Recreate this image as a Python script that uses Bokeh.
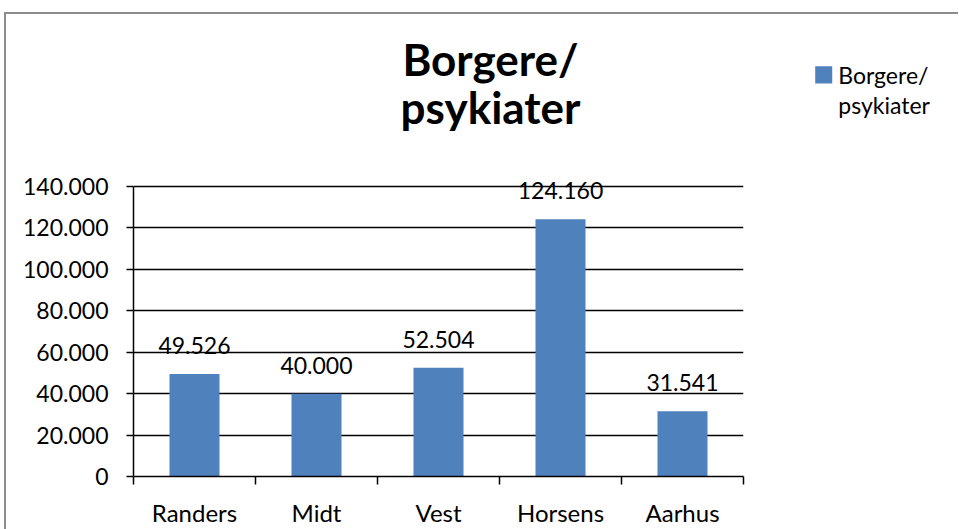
from bokeh.plotting import figure
from bokeh.models import Range1d, FixedTicker, LabelSet, ColumnDataSource
from bokeh.core.properties import value
from bokeh.embed import file_html
from bokeh.resources import INLINE

# ---- data ----
categories = ["Randers", "Midt", "Vest", "Horsens", "Aarhus"]
values = [49526, 40000, 52504, 124160, 31541]
series_name = ["Borgere/", "psykiater"]
title_lines = ["Borgere/", "psykiater"]
y_ticks = [0, 20000, 40000, 60000, 80000, 100000, 120000, 140000]
y_tick_labels = ["0", "20.000", "40.000", "60.000", "80.000", "100.000", "120.000", "140.000"]

BAR = "#4F81BD"
FONT = "Lato"
BORDER = "2px solid #8c8c8c"
W = 952

def dk(v):
    return f"{v:,}".replace(",", ".")

# ---------- header figure: title + legend ----------
HA = 140
a = figure(width=W, height=HA, x_range=Range1d(0, W), y_range=Range1d(HA, 0),
           output_backend="svg", toolbar_location=None,
           x_axis_location=None, y_axis_location=None,
           min_border=0, min_border_left=0, min_border_right=0,
           min_border_top=0, min_border_bottom=0,
           styles={"margin-left": "4px", "margin-top": "12px", "box-sizing": "content-box",
                   "border-left": BORDER, "border-top": BORDER})
a.outline_line_color = None
a.xgrid.visible = False
a.ygrid.visible = False

a.text(x=[483, 483], y=[44, 91], text=title_lines, text_font=value(FONT),
       text_font_style="bold", text_font_size="44px", text_align="center",
       text_baseline="alphabetic", text_color="black")
a.quad(left=[807], right=[824], top=[51], bottom=[68], fill_color=BAR, line_color=None)
a.text(x=[830, 830], y=[60, 89], text=series_name, text_font=value(FONT),
       text_font_size="23px", text_align="left", text_baseline="alphabetic",
       text_color="black")

# ---------- chart figure ----------
HB = 375
BOT = 53
FRAME_H = 300                     # px from value 0 to top of frame
PX_PER_UNIT = 290 / 140000        # 0..140000 spans 290 px
y_end = FRAME_H / PX_PER_UNIT

xs = [i + 0.5 for i in range(len(categories))]
src = ColumnDataSource(dict(x=xs, top=values, label=[dk(v) for v in values]))

p = figure(width=W, height=HB, x_range=Range1d(0, len(categories)),
           y_range=Range1d(0, y_end), output_backend="svg", toolbar_location=None,
           min_border_left=127, min_border_right=217, min_border_top=HB - BOT - FRAME_H,
           min_border_bottom=BOT,
           styles={"margin-left": "4px", "box-sizing": "content-box",
                   "border-left": BORDER})
p.outline_line_color = None

p.vbar(x="x", top="top", width=0.41, source=src, fill_color=BAR, line_color=None)

yt = FixedTicker(ticks=y_ticks)
ya = p.yaxis[0]
ya.ticker = yt
ya.bounds = (0, 140000)
ya.major_label_overrides = {t: l for t, l in zip(y_ticks, y_tick_labels)}
ya.axis_line_color = "black"
ya.axis_line_width = 1.5
ya.major_tick_line_color = "black"
ya.major_tick_line_width = 1.5
ya.major_tick_out = 7
ya.major_tick_in = 0
ya.minor_tick_line_color = None
ya.major_label_text_font = FONT
ya.major_label_text_font_size = "23px"
ya.major_label_text_color = "black"
ya.major_label_standoff = 18

p.ygrid.ticker = yt
p.ygrid.grid_line_color = "black"
p.ygrid.grid_line_width = 1.5
p.xgrid.visible = False

xa = p.xaxis[0]
xa.ticker = FixedTicker(ticks=xs, minor_ticks=list(range(len(categories) + 1)))
xa.major_label_overrides = {x: c for x, c in zip(xs, categories)}
xa.axis_line_color = "black"
xa.axis_line_width = 1.5
xa.major_tick_line_color = None
xa.major_tick_out = 8
xa.major_tick_in = 0
xa.minor_tick_line_color = "black"
xa.minor_tick_line_width = 1.5
xa.minor_tick_out = 8
xa.minor_tick_in = 0
xa.major_label_text_font = FONT
xa.major_label_text_font_size = "24px"
xa.major_label_text_line_height = 1.0
xa.major_label_text_color = "black"
xa.major_label_standoff = 13

p.add_layout(LabelSet(x="x", y="top", text="label", source=src, y_offset=20,
                      text_align="center", text_baseline="alphabetic",
                      text_font=value(FONT), text_font_size="23px", text_color="black"))

open("out.html", "w").write(file_html([a, p], INLINE))
